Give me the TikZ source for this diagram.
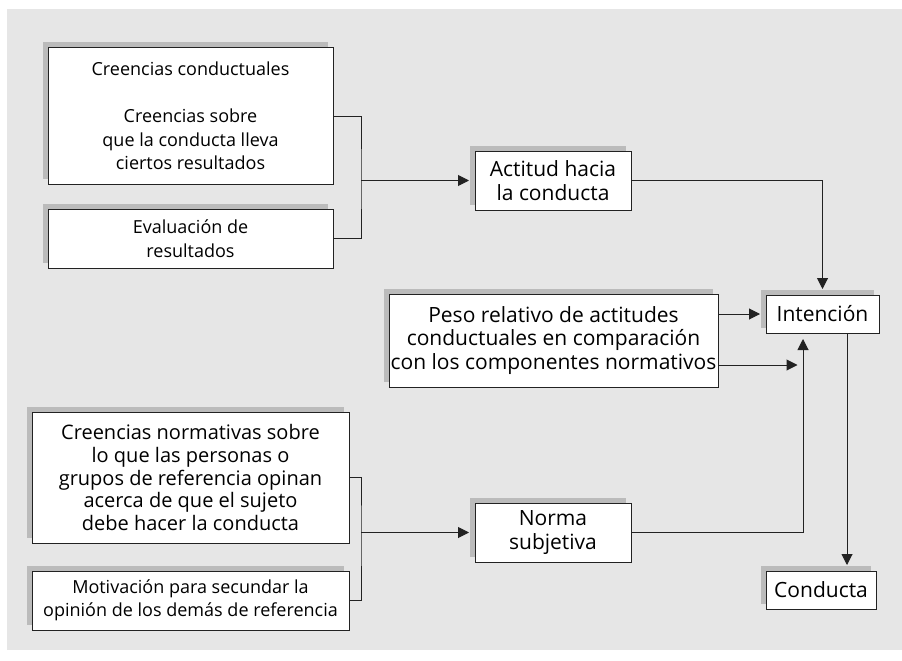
\documentclass[tikz,border=0pt]{standalone}
\usepackage{fontspec}
\setmainfont{Open Sans}
\usetikzlibrary{arrows.meta,shadows}
\begin{document}
\begin{tikzpicture}[x=1pt,y=-1pt,
  box/.style={draw=custcol_33_33_33, line width=1.0pt, fill=white, align=center,
    inner sep=0, font=\fontsize{21pt}{23.5pt}\selectfont,
    drop shadow={shadow xshift=-5.5pt, shadow yshift=5.5pt, opacity=1, fill=custcol_bb_bb_bb}},
  smallbox/.style={box, font=\fontsize{18pt}{23.5pt}\selectfont},
  wire/.style={line width=1.0pt, custcol_33_33_33},
  arr/.style={wire, -{Triangle[length=11pt,width=11pt]}, shorten >=5.5pt}]
\definecolor{custcol_e6_e6_e6}{RGB}{230, 230, 230}
\definecolor{custcol_bb_bb_bb}{RGB}{187, 187, 187}
\definecolor{custcol_33_33_33}{RGB}{34, 34, 34}
\useasboundingbox (0.0,0.0) rectangle (902.0,661.0);
\fill [custcol_e6_e6_e6] (7.0,9.0) rectangle (902.0,650.0);
% left column
\node [smallbox, minimum width=285pt, minimum height=136pt] (cc) at (190.5,116.0) {Creencias conductuales\\[23.5pt]Creencias sobre\\que la conducta lleva\\ciertos resultados};
\node [smallbox, minimum width=285pt, minimum height=59pt] (ev) at (190.5,238.5) {Evaluaci\'on de\\resultados};
\node [box, font=\fontsize{20pt}{22.7pt}\selectfont, minimum width=317pt, minimum height=131pt] (cn) at (190.5,477.5) {Creencias normativas sobre\\lo que las personas o\\grupos de referencia opinan\\acerca de que el sujeto\\debe hacer la conducta};
\node [smallbox, minimum width=317pt, minimum height=59pt] (mot) at (190.5,600.5) {Motivaci\'on para secundar la\\opini\'on de los dem\'as de referencia};
% middle column
\node [box, minimum width=156pt, minimum height=59pt] (act) at (553.0,180.5) {Actitud hacia\\la conducta};
\node [box, minimum width=329pt, minimum height=93pt] (peso) at (553.5,340.5) {Peso relativo de actitudes\\conductuales en comparaci\'on\\con los componentes normativos};
\node [box, minimum width=156pt, minimum height=59pt] (norma) at (553.0,532.5) {Norma\\subjetiva};
% right column
\node [box, minimum width=113pt, minimum height=38pt] (int) at (822.5,314.0) {Intenci\'on};
\node [box, minimum width=110pt, minimum height=38pt] (cond) at (821.0,590.0) {Conducta};
\coordinate (brA) at (361.0,180.5);
\coordinate (brB) at (361.0,532.5);
\coordinate (jn) at (803.0,365.0);
\coordinate (dn) at (847.0,450.0);
\draw [wire] (cc.east) -| (brA) |- (ev.east);
\draw [arr] (brA) -- (act.west);
\draw [wire] (cn.east) -| (brB) |- (mot.east);
\draw [arr] (brB) -- (norma.west);
\draw [arr] (act.east) -| (int.north);
\draw [arr] (peso.east |- int.west) -- (int.west);
\draw [arr] (peso.east |- jn) -- (jn);
\draw [arr] (norma.east) -| (jn) -- (jn |- int.south);
\draw [arr] (int.south -| dn) -- (cond.north -| dn);
\end{tikzpicture}
\end{document}
